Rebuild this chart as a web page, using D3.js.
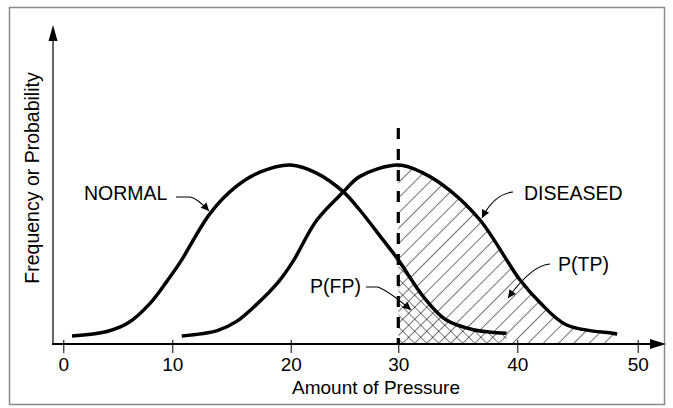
<!DOCTYPE html>
<html>
<head>
<meta charset="utf-8">
<script src="https://cdn.jsdelivr.net/npm/d3@7"></script>
<style>
  html, body { margin: 0; padding: 0; background: #fff; }
  svg { display: block; font-family: "Liberation Sans", Arial, Helvetica, sans-serif; }
</style>
</head>
<body>
<svg id="chart" width="673" height="408"></svg>
<script>
// ---- data ----
const xTicks = [0, 10, 20, 30, 40, 50];
const xTickLabels = ["0", "10", "20", "30", "40", "50"];
const cutoff = 30;
// NORMAL distribution: pressure values and relative frequency (0-100)
const normalP = [0.8, 4, 6, 8, 9.5, 10.7, 13.2, 15.4, 17.4, 20, 22.4, 24.9, 26.4, 28.6, 30, 32.1, 34, 36.3, 39.1];
const normalF = [4.5, 7, 12, 23, 35, 46, 73, 88, 96, 100, 95.5, 85, 75, 58, 47, 26.5, 13.5, 8, 6];
// DISEASED distribution
const diseasedP = [10.8, 13.8, 15.4, 17.1, 19, 20.2, 22.4, 24.9, 26.4, 30, 32.1, 34.3, 36.9, 40.2, 41.9, 44.1, 47.9, 48.3];
const diseasedF = [4.5, 7.5, 12.5, 22, 35, 46, 69, 85, 93.5, 100, 95.5, 86, 69, 36, 23, 10.6, 6, 5.6];

const xTitle = "Amount of Pressure";
const yTitle = "Frequency or Probability";

// ---- layout ----
const svg = d3.select("#chart");
const x = d3.scaleLinear().domain(xTicks).range([63.3, 172.3, 290.7, 398.3, 517.3, 637.7]);
const y = d3.scaleLinear().domain([0, 100]).range([344, 165]);
const axisY = y(0);
const axisLeft = 53;

const normal = normalP.map((p, i) => ({p, f: normalF[i]}));
const diseased = diseasedP.map((p, i) => ({p, f: diseasedF[i]}));

const curve = d3.curveCatmullRom.alpha(0.5);
const line = d3.line().x(d => x(d.p)).y(d => y(d.f)).curve(curve);
const area = d3.area().x(d => x(d.p)).y0(axisY).y1(d => y(d.f)).curve(curve);

// frame
svg.append("rect").attr("x", 9.5).attr("y", 7.5).attr("width", 655).attr("height", 397)
  .attr("fill", "none").attr("stroke", "#8a8a8a").attr("stroke-width", 1.5);

// patterns
const defs = svg.append("defs");
const pTP = defs.append("pattern").attr("id", "hatchTP").attr("patternUnits", "userSpaceOnUse")
  .attr("width", 10.8).attr("height", 10.8).attr("patternTransform", "rotate(45)");
pTP.append("line").attr("x1", 0).attr("y1", 0).attr("x2", 0).attr("y2", 10.8)
  .attr("stroke", "#000").attr("stroke-width", 1.1);
const pFP = defs.append("pattern").attr("id", "hatchFP").attr("patternUnits", "userSpaceOnUse")
  .attr("width", 8.5).attr("height", 8.5).attr("patternTransform", "rotate(45)");
pFP.append("line").attr("x1", 0).attr("y1", 0).attr("x2", 0).attr("y2", 8.5)
  .attr("stroke", "#000").attr("stroke-width", 1);
pFP.append("line").attr("x1", 0).attr("y1", 0).attr("x2", 8.5).attr("y2", 0)
  .attr("stroke", "#000").attr("stroke-width", 1);
defs.append("marker").attr("id", "arr").attr("viewBox", "0 0 10 10")
  .attr("refX", 10).attr("refY", 5).attr("markerWidth", 12).attr("markerHeight", 8)
  .attr("markerUnits", "userSpaceOnUse").attr("orient", "auto")
  .append("path").attr("d", "M0,0 L10,5 L0,10 Z").attr("fill", "#000");

// hatched areas
svg.append("path").datum(diseased.filter(d => d.p >= cutoff))
  .attr("d", area).attr("fill", "url(#hatchTP)");
svg.append("path").datum(normal.filter(d => d.p >= cutoff))
  .attr("d", area).attr("fill", "#fff");
svg.append("path").datum(normal.filter(d => d.p >= cutoff))
  .attr("d", area).attr("fill", "url(#hatchFP)");

// y axis
svg.append("line").attr("x1", axisLeft).attr("x2", axisLeft).attr("y1", axisY).attr("y2", 38)
  .attr("stroke", "#000").attr("stroke-width", 1.2);
svg.append("path").attr("d", `M${axisLeft},25 L${axisLeft + 4.5},41 L${axisLeft - 4.5},41 Z`).attr("fill", "#000");

// x axis
svg.append("line").attr("x1", 52).attr("x2", 652).attr("y1", axisY).attr("y2", axisY)
  .attr("stroke", "#000").attr("stroke-width", 2);
svg.append("path").attr("d", `M666,${axisY} L650,${axisY - 5} L650,${axisY + 5} Z`).attr("fill", "#000");

const gx = svg.append("g").attr("transform", `translate(0,${axisY})`)
  .call(d3.axisBottom(x).tickValues(xTicks).tickFormat((d, i) => xTickLabels[i]).tickSize(9).tickPadding(4));
gx.select(".domain").remove();
gx.selectAll(".tick line").attr("y1", -4).attr("stroke", "#000").attr("stroke-width", 1);
gx.selectAll(".tick text").attr("font-size", 19).attr("fill", "#000")
  .attr("font-family", "'Liberation Sans', Arial, sans-serif").attr("dy", null).attr("y", 27);

// dashed cutoff line
svg.append("line").attr("x1", x(cutoff)).attr("x2", x(cutoff)).attr("y1", 128).attr("y2", axisY)
  .attr("stroke", "#000").attr("stroke-width", 3.2).attr("stroke-dasharray", "11,10");

// curves
svg.append("path").datum(normal).attr("d", line).attr("fill", "none")
  .attr("stroke", "#000").attr("stroke-width", 3.5).attr("stroke-linecap", "butt");
svg.append("path").datum(diseased).attr("d", line).attr("fill", "none")
  .attr("stroke", "#000").attr("stroke-width", 3.5).attr("stroke-linecap", "butt");

// titles
svg.append("text").attr("x", 376).attr("y", 394).attr("text-anchor", "middle")
  .attr("font-size", 19).text(xTitle);
svg.append("text").attr("transform", "translate(39,178) rotate(-90)").attr("text-anchor", "middle")
  .attr("font-size", 19.5).text(yTitle);

// annotations
const notes = [
  {text: "NORMAL", tx: 84, ty: 200, path: "M176,197 L190,197 Q197,198 209,211"},
  {text: "DISEASED", tx: 524, ty: 200, path: "M513,192 Q494,194 482,218"},
  {text: "P(TP)", tx: 558, ty: 270.5, path: "M550,264 Q532,265 508,298"},
  {text: "P(FP)", tx: 310, ty: 292.5, path: "M366,287 L378,287 Q390,292 411,310"}
];
notes.forEach(n => {
  svg.append("text").attr("x", n.tx).attr("y", n.ty).attr("font-size", 19.5).text(n.text);
  svg.append("path").attr("d", n.path).attr("fill", "none").attr("stroke", "#000")
    .attr("stroke-width", 1.1).attr("marker-end", "url(#arr)");
});
</script>
</body>
</html>
